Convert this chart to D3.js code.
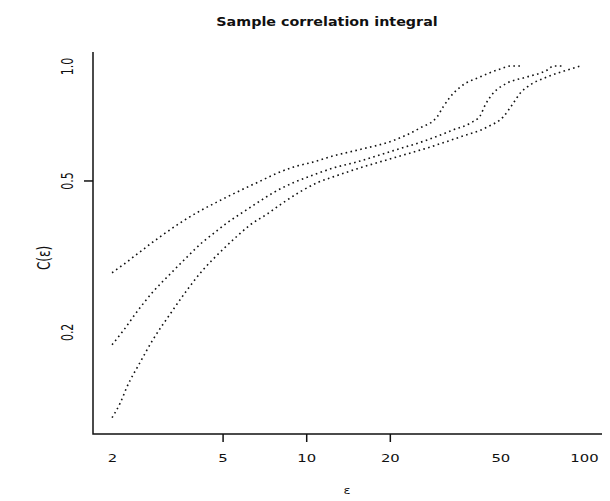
<!DOCTYPE html>
<html>
<head>
<meta charset="utf-8">
<script src="https://cdn.jsdelivr.net/npm/d3@7"></script>
<style>
body { margin: 0; background: #fff; }
text { font-family: "DejaVu Sans", sans-serif; fill: #111; }
</style>
</head>
<body>
<svg id="chart"></svg>
<script>
// log-log plot of the sample correlation integral, three curves
var xTicks = [2, 5, 10, 20, 50, 100];
var xTickMarks = [5, 10, 20];      // only these ticks show in the picture
var yTicks = [0.2, 0.5, 1.0];
var yTickMarks = [0.5];

// [eps, C(eps)]
var curveA = [[2.0,0.286],[2.19,0.300],[2.46,0.320],[2.74,0.340],[3.05,0.360],[3.60,0.391],
  [4.15,0.416],[4.78,0.439],[5.46,0.461],[6.28,0.484],[6.83,0.498],[7.60,0.517],[8.97,0.542],
  [10.6,0.559],[12.5,0.580],[15.3,0.601],[20.6,0.637],[25.7,0.687],[29.6,0.735],[31.1,0.780],
  [33.0,0.829],[35.9,0.881],[42.3,0.936],[50.0,0.982],[54.7,1.0],[59.0,1.0]];
var curveB = [[2.0,0.185],[2.19,0.201],[2.46,0.226],[2.81,0.255],[3.24,0.284],[3.73,0.315],
  [4.25,0.345],[4.62,0.362],[5.19,0.387],[5.93,0.413],[7.00,0.447],[7.60,0.464],[8.97,0.493],
  [10.6,0.517],[12.5,0.539],[15.3,0.560],[20.6,0.599],[27.3,0.639],[33.8,0.679],[39.0,0.708],
  [42.3,0.740],[44.1,0.790],[47.2,0.849],[53.0,0.902],[62.5,0.936],[73.8,0.976],[77.6,1.0],
  [83.4,1.0]];
var curveC = [[2.0,0.119],[2.14,0.130],[2.26,0.143],[2.52,0.166],[2.81,0.191],[3.24,0.223],
  [3.73,0.258],[4.25,0.291],[4.90,0.324],[5.64,0.357],[6.28,0.382],[7.23,0.408],[8.26,0.437],
  [9.51,0.467],[10.95,0.493],[12.5,0.511],[15.3,0.537],[20.6,0.573],[27.3,0.609],[35.9,0.651],
  [44.9,0.691],[51.2,0.735],[55.7,0.799],[59.0,0.849],[62.5,0.881],[73.8,0.936],[87.1,0.976],
  [97.0,1.0]];
var curves = [curveA, curveB, curveC];

var W = 610, H = 501;
var pLeft = 93, pRight = 602, pTop = 52, pBottom = 434;

var svg = d3.select("#chart").attr("width", W).attr("height", H);

var x = d3.scaleLog().domain([1.708, 116.1]).range([pLeft, pRight]);
var y = d3.scaleLog().domain([0.1078, 1.088]).range([pBottom, pTop]);

// title
svg.append("text")
  .attr("transform", "translate(327,26) scale(1.1,1)")
  .attr("text-anchor", "middle")
  .style("font-size", "13px").style("font-weight", "bold")
  .text("Sample correlation integral");

// L shaped box
svg.append("path")
  .attr("d", "M" + pLeft + "," + pTop + "V" + pBottom + "H" + pRight)
  .attr("fill", "none").attr("stroke", "#111").attr("stroke-width", 1.5);

// x axis: labels and marks
var xLab = svg.append("g").attr("transform", "translate(0," + pBottom + ")")
  .call(d3.axisBottom(x).tickValues(xTicks).tickFormat(d3.format("d")).tickSize(0));
xLab.select(".domain").remove();
xLab.selectAll("text")
  .attr("y", 28).attr("dy", 0)
  .attr("transform", "scale(1.35,1)")
  .style("font-size", "11px").style("font-family", "DejaVu Sans, sans-serif").attr("fill", "#111");

var xMark = svg.append("g").attr("transform", "translate(0," + pBottom + ")")
  .call(d3.axisBottom(x).tickValues(xTickMarks).tickFormat("").tickSize(8));
xMark.select(".domain").remove();
xMark.selectAll("line").attr("stroke", "#111").attr("stroke-width", 1.5);

// y axis: labels and marks
var yLab = svg.append("g").attr("transform", "translate(" + pLeft + ",0)")
  .call(d3.axisLeft(y).tickValues(yTicks).tickFormat(d3.format(".1f")).tickSize(0));
yLab.select(".domain").remove();
yLab.selectAll("text")
  .attr("x", 0).attr("y", 0).attr("dy", 0)
  .attr("text-anchor", "middle")
  .attr("transform", "translate(-20,0) rotate(-90) scale(1,1.5)")
  .style("font-size", "11px").style("font-family", "DejaVu Sans, sans-serif").attr("fill", "#111");

var yMark = svg.append("g").attr("transform", "translate(" + pLeft + ",0)")
  .call(d3.axisLeft(y).tickValues(yTickMarks).tickFormat("").tickSize(9));
yMark.select(".domain").remove();
yMark.selectAll("line").attr("stroke", "#111").attr("stroke-width", 1.5);

// axis titles
svg.append("text")
  .attr("transform", "translate(347,494) scale(1.3,1)")
  .attr("text-anchor", "middle")
  .style("font-size", "10px")
  .text("ε");

svg.append("text")
  .attr("transform", "translate(50,258) rotate(-90) scale(1,1.4)")
  .attr("text-anchor", "middle")
  .style("font-size", "12px")
  .text("C(ε)");

// curves
var line = d3.line()
  .x(function(d) { return x(d[0]); })
  .y(function(d) { return y(d[1]); })
  .curve(d3.curveMonotoneX);

svg.selectAll(".curve").data(curves).enter().append("path")
  .attr("class", "curve")
  .attr("d", line)
  .attr("fill", "none")
  .attr("stroke", "#111")
  .attr("stroke-width", 1.6)
  .attr("stroke-dasharray", "1.6,3.4");
</script>
</body>
</html>
